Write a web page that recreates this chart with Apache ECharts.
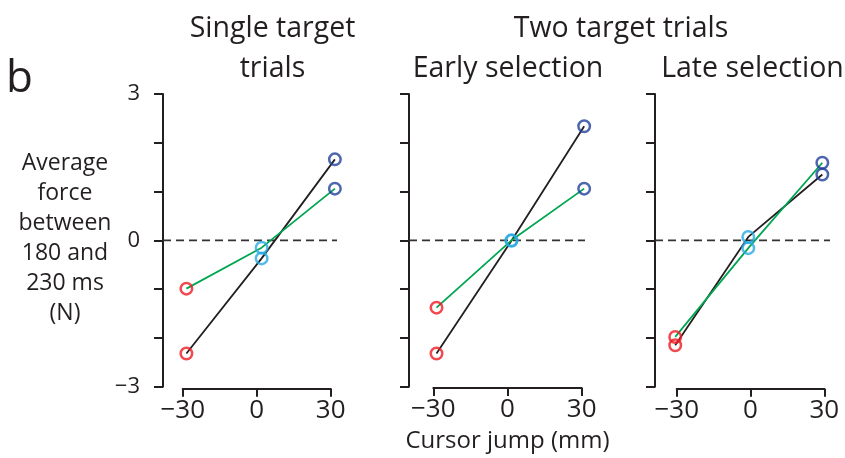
<!DOCTYPE html>
<html>
<head>
<meta charset="utf-8">
<script src="https://cdn.jsdelivr.net/npm/echarts@6/dist/echarts.min.js"></script>
<style>
html,body{margin:0;padding:0;background:#fff;}
#main{width:845px;height:458px;}
</style>
</head>
<body>
<div id="main"></div>
<script>
// ---- data ----
const panelTitles = ['Single target\ntrials', 'Early selection', 'Late selection'];
const groupTitle = 'Two target trials';
const yAxisTitle = 'Average\nforce\nbetween\n180 and\n230 ms\n(N)';
const xAxisTitle = 'Cursor jump (mm)';
const xTicks = [-30, 0, 30];
const yTicks = [-3, 0, 3];
// cursor jump positions of the markers (mm), per panel
const singleX = [-28.5, 2.0, 31.7];
const earlyX  = [-28.7, 1.6, 31.0];
const lateX   = [-30.6, -0.9, 29.2];
// average force (N): black condition and green condition
const singleBlack = [-2.32, -0.37, 1.66];
const singleGreen = [-0.99, -0.15, 1.06];
const earlyBlack  = [-2.32, -0.01, 2.34];
const earlyGreen  = [-1.38, 0.00, 1.06];
const lateBlack   = [-2.15, 0.07, 1.35];
const lateGreen   = [-1.98, -0.16, 1.59];

// ---- layout & styles ----
const FONT = 'Open Sans';
const INK = '#231f20';
const markerColors = ['#ec1c24', '#27aae1', '#21409a'];
const GREEN = '#00a651';
const TOP = 94, HEIGHT = 292.7;

// pixel layout of each panel: y-axis x, -30 tick x, +30 tick x, end of zero line
const panels = [
  {x: singleX, black: singleBlack, green: singleGreen, axisX: 163, tickL: 182.7, tickR: 330.7, end: 337, labels: true},
  {x: earlyX,  black: earlyBlack,  green: earlyGreen,  axisX: 409, tickL: 433.3, tickR: 581.7, end: 585, labels: false},
  {x: lateX,   black: lateBlack,   green: lateGreen,   axisX: 655, tickL: 676.7, tickR: 824.3, end: 830, labels: false}
];

const grid = [], xAxis = [], yAxis = [], series = [];
const fmt = (ticks) => (v => ticks.includes(v) ? String(v).replace('-', '\u2212') : '');

panels.forEach((p, i) => {
  const ppm = (p.tickR - p.tickL) / 60;
  const dMin = -30 - (p.tickL - p.axisX) / ppm;
  const dMax = 30 + (p.end - p.tickR) / ppm;
  const g = i * 2;
  // data grid (with the y axis)
  grid.push({left: p.axisX, width: p.end - p.axisX, top: TOP, height: HEIGHT});
  xAxis.push({type: 'value', gridIndex: g, min: dMin, max: dMax, show: false});
  yAxis.push({
    type: 'value', gridIndex: g, min: -3, max: 3, interval: 1,
    axisLine: {show: true, onZero: false, lineStyle: {color: INK, width: 2}},
    axisTick: {show: true, length: 9, lineStyle: {color: INK, width: 2}},
    splitLine: {show: false},
    axisLabel: {show: p.labels, margin: 23, fontFamily: FONT, fontSize: 22, color: INK, formatter: fmt(yTicks)}
  });
  // display grid (with the x axis, -30..30)
  grid.push({left: p.tickL, width: p.tickR - p.tickL, top: TOP, height: HEIGHT});
  xAxis.push({
    type: 'value', gridIndex: g + 1, min: -30, max: 30, interval: 30, offset: 2,
    axisLine: {show: true, onZero: false, lineStyle: {color: INK, width: 2}},
    axisTick: {show: true, length: 8, lineStyle: {color: INK, width: 2}},
    splitLine: {show: false},
    axisLabel: {show: true, margin: 9, fontFamily: FONT, fontSize: 26, color: INK, formatter: fmt(xTicks)},
    name: i === 1 ? xAxisTitle : '', nameLocation: 'middle', nameGap: 41,
    nameTextStyle: {fontFamily: FONT, fontSize: 24, color: INK}
  });
  yAxis.push({type: 'value', gridIndex: g + 1, min: -3, max: 3, show: false});

  series.push({
    type: 'line', xAxisIndex: g, yAxisIndex: g, silent: true, symbol: 'none',
    data: [[dMin, 0], [dMax, 0]],
    lineStyle: {color: '#333', width: 1.8, type: [8, 5]}, z: 1
  });
  series.push({
    type: 'line', xAxisIndex: g, yAxisIndex: g, symbol: 'none',
    data: p.x.map((x, k) => [x, p.black[k]]),
    lineStyle: {color: INK, width: 1.8}, z: 2
  });
  series.push({
    type: 'line', xAxisIndex: g, yAxisIndex: g, symbol: 'none',
    data: p.x.map((x, k) => [x, p.green[k]]),
    lineStyle: {color: GREEN, width: 1.8}, z: 3
  });
  [p.black, p.green].forEach(vals => {
    series.push({
      type: 'scatter', xAxisIndex: g, yAxisIndex: g, symbol: 'circle', symbolSize: 11.5,
      data: p.x.map((x, k) => ({value: [x, vals[k]],
        itemStyle: {color: 'rgba(0,0,0,0)', borderColor: markerColors[k], borderWidth: 2.5}})),
      z: 4
    });
  });
});

const titleStyle = {fontFamily: FONT, fontSize: 28.5, fill: INK, textAlign: 'center', textVerticalAlign: 'middle'};
const graphic = [
  {type: 'text', x: 6, y: 79, style: {text: 'b', fontFamily: FONT, fontSize: 44, fill: INK, textVerticalAlign: 'middle'}},
  {type: 'text', x: 272.5, y: 48.7, style: Object.assign({}, titleStyle, {text: panelTitles[0], lineHeight: 40})},
  {type: 'text', x: 621, y: 28.7, style: Object.assign({}, titleStyle, {text: groupTitle})},
  {type: 'text', x: 508, y: 68.7, style: Object.assign({}, titleStyle, {text: panelTitles[1]})},
  {type: 'text', x: 752.5, y: 68.7, style: Object.assign({}, titleStyle, {text: panelTitles[2]})},
  {type: 'text', x: 65, y: 238, style: {text: yAxisTitle, fontFamily: FONT, fontSize: 23, fill: INK,
    lineHeight: 30, textAlign: 'center', textVerticalAlign: 'middle'}}
];

const chart = echarts.init(document.getElementById('main'), null, {renderer: 'canvas'});
chart.setOption({animation: false, backgroundColor: '#fff', grid, xAxis, yAxis, series, graphic});
</script>
</body>
</html>
